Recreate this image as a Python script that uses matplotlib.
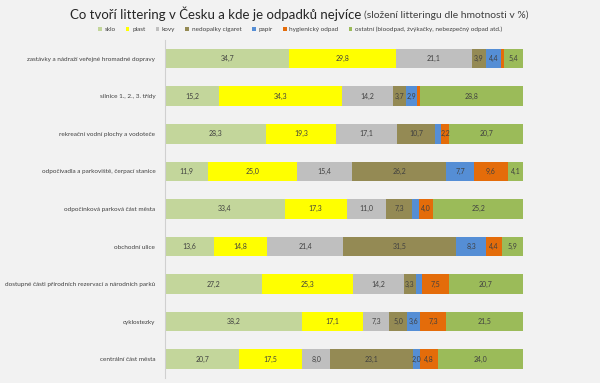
import numpy as np
import matplotlib
matplotlib.use("Agg")
import matplotlib.pyplot as plt

plt.rcParams['font.family'] = ['Lato', 'DejaVu Sans']

# categories (top to bottom)
mista = ["zastávky a nádraží veřejné hromadné dopravy",
         "silnice 1., 2., 3. třídy",
         "rekreační vodní plochy a vodoteče",
         "odpočívadla a parkoviště, čerpací stanice",
         "odpočinková parková část města",
         "obchodní ulice",
         "dostupné části přírodních rezervací a národních parků",
         "cyklostezky",
         "centrální část města"]

sklo       = [34.7, 15.2, 28.3, 11.9, 33.4, 13.6, 27.2, 38.2, 20.7]
plast      = [29.8, 34.3, 19.3, 25.0, 17.3, 14.8, 25.3, 17.1, 17.5]
kovy       = [21.1, 14.2, 17.1, 15.4, 11.0, 21.4, 14.2, 7.3, 8.0]
nedopalky  = [3.9, 3.7, 10.7, 26.2, 7.3, 31.5, 3.3, 5.0, 23.1]
papir      = [4.4, 2.9, 1.7, 7.7, 1.8, 8.3, 1.7, 3.6, 2.0]
hygienicky = [0.7, 0.9, 2.2, 9.6, 4.0, 4.4, 7.5, 7.3, 4.8]
ostatni    = [5.4, 28.8, 20.7, 4.1, 25.2, 5.9, 20.7, 21.5, 24.0]

serie = [("sklo", sklo, "#c3d69b"),
         ("plast", plast, "#ffff00"),
         ("kovy", kovy, "#bfbfbf"),
         ("nedopalky cigaret", nedopalky, "#948a54"),
         ("papír", papir, "#558ed5"),
         ("hygienický odpad", hygienicky, "#e46c0a"),
         ("ostatní (bioodpad, žvýkačky, nebezpečný odpad atd.)", ostatni, "#9bbb59")]

bg = "#f2f2f2"
fig = plt.figure(figsize=(6, 3.83), dpi=100, facecolor=bg)
ax = fig.add_axes([0.275, 0.013, 0.597, 0.883], facecolor=bg)

y = np.arange(len(mista))
left = np.zeros(len(mista))
for nazev, hodnoty, barva in serie:
    h = np.array(hodnoty)
    bars = ax.barh(y, h, left=left, height=0.52, color=barva, label=nazev)
    for b, v in zip(bars, h):
        if v >= 2.0:
            ax.text(b.get_x() + b.get_width() / 2, b.get_y() + b.get_height() / 2,
                    f"{v:.1f}".replace(".", ","), ha="center", va="center",
                    fontsize=5, color="#404040")
    left += h

ax.set_xlim(0, 100)
ax.set_ylim(len(mista) - 0.5, -0.5)
ax.set_yticks(y)
ax.set_yticklabels(mista, fontsize=4.6, color="#404040")
ax.tick_params(axis="y", length=0, pad=7)
ax.set_xticks([])
for s in ["top", "right", "bottom"]:
    ax.spines[s].set_visible(False)
ax.spines["left"].set_color("#d0d0d0")
ax.spines["left"].set_linewidth(0.8)

# title in two sizes
fig.text(0.602, 0.963, "Co tvoří littering v Česku a kde je odpadků nejvíce",
         ha="right", va="center", fontsize=9.5, color="#262626")
fig.text(0.606, 0.961, "(složení litteringu dle hmotnosti v %)",
         ha="left", va="center", fontsize=7.5, color="#404040")

fig.legend(loc="center", bbox_to_anchor=(0.5, 0.924), ncol=7, frameon=False,
           fontsize=4.6, handlelength=0.6, handleheight=0.6, handletextpad=0.4,
           columnspacing=1.6, labelcolor="#404040")

fig.savefig("out.png", dpi=100, facecolor=bg)
